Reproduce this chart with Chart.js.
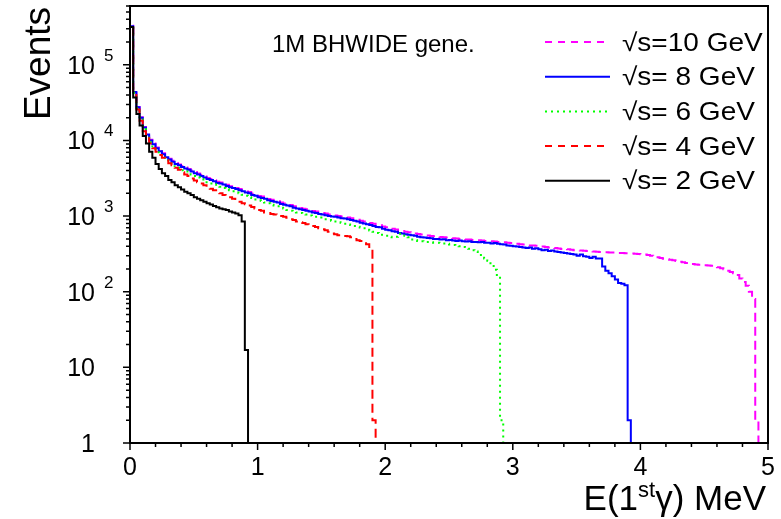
<!DOCTYPE html>
<html>
<head>
<meta charset="utf-8">
<script src="https://cdn.jsdelivr.net/npm/chart.js@4.4.1/dist/chart.umd.min.js"></script>
<style>
  html, body { margin: 0; padding: 0; background: #fff; }
  canvas { display: block; }
</style>
</head>
<body>
<canvas id="spectrum" width="781" height="519"></canvas>
<script>
// histogram binning: every series starts at 0 MeV, one value per 0.025 MeV bin
const binWidth = 0.025;
const energyTicks = [0, 1, 2, 3, 4, 5];
const eventTicks = [1, 10, 100, 1000, 10000, 100000];
const beamLabels = ["√s=10 GeV", "√s= 8 GeV", "√s= 6 GeV", "√s= 4 GeV", "√s= 2 GeV"];

const events10GeV = [
  330000, 44000, 27800, 20300, 15100, 12200, 10200, 9100, 8100, 7400,
  6800, 6200, 5750, 5400, 5050, 4800, 4600, 4400, 4200, 4000,
  3820, 3650, 3500, 3350, 3200, 3100, 2980, 2850, 2790, 2700,
  2600, 2480, 2430, 2350, 2280, 2200, 2120, 2080, 1980, 1930,
  1850, 1810, 1760, 1690, 1650, 1610, 1570, 1510, 1470, 1440,
  1400, 1350, 1320, 1280, 1250, 1230, 1200, 1170, 1150, 1120,
  1100, 1080, 1050, 1040, 1020, 1000, 985, 970, 955, 935,
  915, 895, 870, 850, 830, 810, 790, 770, 755, 730,
  710, 700, 680, 665, 650, 635, 620, 610, 600, 590,
  580, 570, 560, 555, 545, 540, 535, 530, 525, 520,
  515, 510, 505, 500, 495, 490, 490, 485, 480, 480,
  475, 470, 470, 465, 460, 455, 455, 450, 445, 440,
  435, 430, 425, 420, 415, 410, 410, 405, 400, 395,
  390, 385, 380, 378, 372, 368, 370, 365, 360, 355,
  352, 350, 348, 345, 345, 340, 338, 335, 335, 332,
  330, 330, 328, 325, 325, 322, 320, 320, 318, 315,
  312, 310, 305, 300, 295, 285, 280, 272, 268, 265,
  260, 255, 250, 245, 240, 237, 233, 230, 228, 226,
  224, 222, 220, 215, 210, 205, 198, 190, 182, 175,
  166, 150, 135, 120, 100, 80, 2
];

const events8GeV = [
  324000, 43600, 27500, 20000, 14800, 12000, 10000, 8900, 7900, 7200,
  6600, 6000, 5600, 5250, 4900, 4700, 4450, 4250, 4100, 3900,
  3700, 3550, 3400, 3250, 3100, 3000, 2900, 2750, 2700, 2620,
  2500, 2400, 2350, 2280, 2200, 2130, 2050, 2000, 1900, 1860,
  1780, 1740, 1700, 1620, 1590, 1550, 1510, 1450, 1410, 1380,
  1350, 1290, 1260, 1230, 1200, 1180, 1150, 1120, 1100, 1070,
  1050, 1030, 1000, 990, 980, 960, 940, 930, 910, 890,
  870, 850, 820, 800, 780, 760, 740, 720, 710, 680,
  660, 650, 630, 620, 600, 590, 575, 565, 560, 550,
  535, 525, 520, 515, 510, 500, 500, 490, 495, 480,
  485, 475, 470, 475, 465, 460, 465, 455, 455, 450,
  455, 445, 445, 435, 440, 430, 425, 420, 410, 405,
  400, 395, 390, 385, 380, 385, 370, 375, 365, 355,
  360, 345, 350, 340, 335, 330, 325, 320, 315, 310,
  300, 310, 295, 290, 280, 290, 275, 275, 215, 190,
  175, 160, 145, 130, 128, 122, 2
];

const events6GeV = [
  322000, 42700, 26900, 19000, 14100, 11500, 9500, 8300, 7400, 6750,
  6150, 5600, 5150, 4800, 4550, 4350, 4050, 3900, 3700, 3550,
  3400, 3250, 3100, 2950, 2800, 2700, 2630, 2500, 2450, 2350,
  2280, 2200, 2130, 2050, 2000, 1910, 1860, 1780, 1740, 1660,
  1620, 1580, 1510, 1480, 1410, 1380, 1350, 1290, 1260, 1200,
  1180, 1150, 1120, 1100, 1070, 1050, 1020, 1000, 980, 955,
  930, 910, 890, 870, 850, 830, 815, 795, 775, 760,
  740, 725, 705, 690, 660, 645, 620, 600, 585, 565,
  550, 535, 525, 535, 585, 575, 550, 525, 490, 480,
  470, 465, 460, 455, 450, 445, 445, 440, 435, 430,
  420, 415, 410, 400, 390, 380, 370, 355, 340, 318,
  295, 275, 257, 230, 195, 160, 2
];

const events4GeV = [
  320000, 41700, 25700, 18200, 13200, 10700, 9100, 7900, 7100, 6450,
  5900, 5500, 5000, 4700, 4350, 4100, 3800, 3550, 3400, 3150,
  2950, 2800, 2700, 2550, 2400, 2300, 2200, 2100, 2000, 1900,
  1850, 1780, 1700, 1620, 1550, 1480, 1440, 1380, 1320, 1260,
  1200, 1180, 1120, 1100, 1070, 1050, 1020, 1000, 980, 950,
  910, 890, 850, 830, 810, 780, 760, 740, 720, 690,
  670, 650, 620, 590, 575, 560, 550, 545, 540, 525,
  500, 480, 470, 455, 425, 390, 2
];

const events2GeV = [
  316000, 37000, 22400, 15800, 11500, 9100, 7100, 5900, 4900, 4200,
  3700, 3400, 3000, 2800, 2550, 2400, 2250, 2100, 2000, 1900,
  1780, 1700, 1620, 1550, 1480, 1420, 1360, 1310, 1260, 1230,
  1200, 1150, 1120, 1080, 1030, 850, 17
];

const FONT = "'Liberation Sans', Arial, Helvetica, sans-serif";

// turn bin contents into a step outline that starts and ends on the x axis
function histPoints(values) {
  const pts = [{ x: 0, y: 1 }];
  values.forEach((v, i) => pts.push({ x: i * binWidth, y: v }));
  pts.push({ x: values.length * binWidth, y: 1 });
  return pts;
}

const styles = [
  { color: "#ff00ff", dash: [9, 5] },
  { color: "#0000ff", dash: [] },
  { color: "#00ff00", dash: [2, 4] },
  { color: "#ff0000", dash: [9, 5] },
  { color: "#000000", dash: [] },
];
const seriesValues = [events10GeV, events8GeV, events6GeV, events4GeV, events2GeV];

const datasets = seriesValues.map((vals, i) => ({
  label: beamLabels[i],
  data: histPoints(vals),
  borderColor: styles[i].color,
  borderDash: styles[i].dash,
  borderWidth: 2,
  pointRadius: 0,
  stepped: true,
  fill: false,
  order: 4 - i,
}));

const frame = {
  id: "frame",
  afterDatasetsDraw(chart) {
    const { ctx, chartArea: a, scales: { x, y } } = chart;
    ctx.save();
    ctx.strokeStyle = "#000";
    ctx.fillStyle = "#000";
    ctx.lineWidth = 2;
    ctx.strokeRect(a.left, a.top, a.right - a.left, a.bottom - a.top);

    // x ticks, minor every 0.2
    ctx.lineWidth = 1.5;
    ctx.beginPath();
    for (let k = 0; k <= 25; k++) {
      const px = x.getPixelForValue(k / 5);
      ctx.moveTo(px, a.bottom);
      ctx.lineTo(px, a.bottom + (k % 5 === 0 ? 7 : 4));
    }
    // y ticks, log minors
    for (let d = 0; d <= 5; d++) {
      for (let m = 1; m <= 9; m++) {
        const v = m * Math.pow(10, d);
        if (v > y.max) break;
        const py = y.getPixelForValue(v);
        ctx.moveTo(a.left, py);
        ctx.lineTo(a.left - (m === 1 ? 7 : 4), py);
      }
    }
    ctx.stroke();

    // x tick labels
    ctx.font = "25px " + FONT;
    ctx.textAlign = "center";
    ctx.textBaseline = "alphabetic";
    energyTicks.forEach(v => ctx.fillText(String(v), x.getPixelForValue(v), a.bottom + 32));

    // y tick labels, 10^n written with raised exponent
    eventTicks.forEach(v => {
      const py = y.getPixelForValue(v);
      const n = Math.round(Math.log10(v));
      ctx.font = "25px " + FONT;
      ctx.textAlign = "right";
      ctx.fillText(n === 0 ? "1" : "10", 95, py + 9);
      if (n >= 2) {
        ctx.font = "17px " + FONT;
        ctx.textAlign = "left";
        ctx.fillText(String(n), 104, py - 4);
      }
    });

    // axis titles
    ctx.save();
    ctx.translate(50, 7);
    ctx.rotate(-Math.PI / 2);
    ctx.font = "37px " + FONT;
    ctx.textAlign = "right";
    ctx.fillText("Events", 0, 0);
    ctx.restore();

    const big = "35px " + FONT, sup = "22px " + FONT;
    ctx.textAlign = "left";
    ctx.font = big;
    const w1 = ctx.measureText("E(1").width, w3 = ctx.measureText("γ) MeV").width;
    ctx.font = sup;
    const w2 = ctx.measureText("st").width;
    let tx = 766 - (w1 + w2 + w3);
    const base = 510;
    ctx.font = big; ctx.fillText("E(1", tx, base); tx += w1;
    ctx.font = sup; ctx.fillText("st", tx, base - 13); tx += w2;
    ctx.font = big; ctx.fillText("γ) MeV", tx, base);

    // annotation
    ctx.font = "24px " + FONT;
    ctx.fillText("1M BHWIDE gene.", 272, 52);

    // legend
    chart.data.datasets.forEach((ds, i) => {
      const ry = 42 + i * 34.7;
      ctx.strokeStyle = ds.borderColor;
      ctx.setLineDash(ds.borderDash.length ? (ds.borderDash[0] > 3 ? [7, 6] : [2, 4]) : []);
      ctx.lineWidth = 2;
      ctx.beginPath();
      ctx.moveTo(545, ry);
      ctx.lineTo(610, ry);
      ctx.stroke();
      ctx.setLineDash([]);
      ctx.save();
      ctx.translate(622, ry + 8.5);
      ctx.scale(1.12, 1);
      ctx.font = "25px " + FONT;
      ctx.fillText(ds.label, 0, 0);
      ctx.restore();
    });
    ctx.restore();
  }
};

new Chart(document.getElementById("spectrum").getContext("2d"), {
  type: "line",
  data: { datasets },
  options: {
    responsive: false,
    animation: false,
    events: [],
    layout: { padding: { left: 130, right: 13, top: 6, bottom: 76 } },
    plugins: { legend: { display: false }, tooltip: { enabled: false } },
    scales: {
      x: { type: "linear", min: 0, max: 5, display: false },
      y: { type: "logarithmic", min: 1, max: 600000, display: false },
    },
  },
  plugins: [frame],
});
</script>
</body>
</html>
